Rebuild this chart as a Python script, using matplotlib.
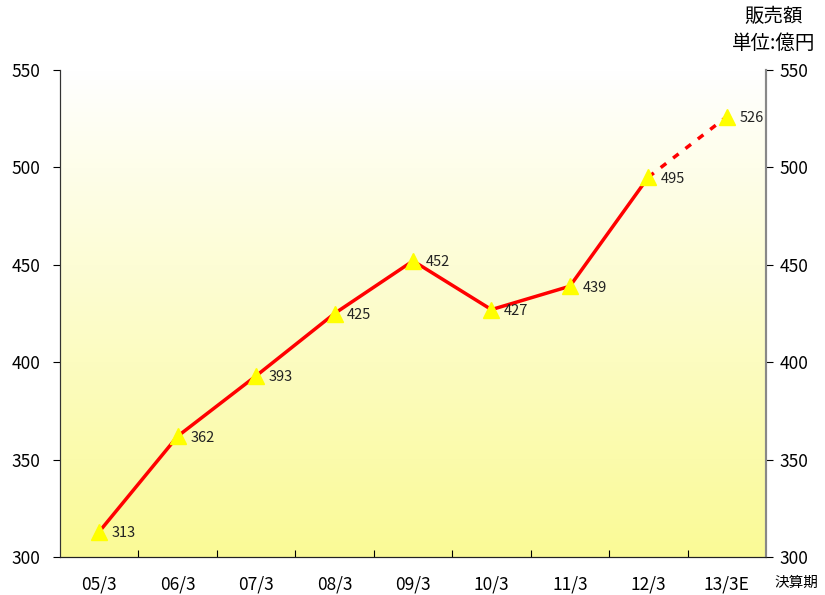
import numpy as np
import matplotlib
matplotlib.use("Agg")
import matplotlib.pyplot as plt

plt.rcParams['font.family'] = ['Noto Sans CJK JP', 'DejaVu Sans']

periods = ["05/3", "06/3", "07/3", "08/3", "09/3", "10/3", "11/3", "12/3", "13/3E"]
sales = [313, 362, 393, 425, 452, 427, 439, 495, 526]
n_actual = 8          # last point is the forecast (dashed)

fig = plt.figure(figsize=(8.25, 5.95), dpi=100)
ax = fig.add_axes([60 / 825, 38 / 595, 706 / 825, 487 / 595])

x = np.arange(len(periods))
ax.set_xlim(-0.5, len(periods) - 0.5)
ax.set_ylim(300, 550)

# background gradient: white at top -> light yellow at bottom
grad = np.linspace(0, 1, 256)[:, None]
top = np.array([1.0, 1.0, 1.0])
bot = np.array([250, 250, 150]) / 255
img = top + (bot - top) * grad[:, :, None]
ax.imshow(np.repeat(img, 2, axis=1), extent=[-0.5, len(periods) - 0.5, 300, 550],
          aspect="auto", zorder=0)

ax.plot(x[:n_actual], sales[:n_actual], color="red", lw=2.5, zorder=2)
ax.plot(x[n_actual - 1:], sales[n_actual - 1:], color="red", lw=2.5,
        ls=(0, (2, 2.5)), zorder=2)
ax.plot(x, sales, ls="none", marker="^", ms=11, color="#FFFF00", mec="#FFFF00", zorder=3)

for xi, v in zip(x, sales):
    ax.annotate(str(v), (xi, v), xytext=(9, -1), textcoords="offset points",
                fontsize=10.5, va="center", ha="left", color="#222222")

# y ticks on both sides
yt = [300, 350, 400, 450, 500, 550]
ax.set_yticks(yt)
ax.tick_params(axis="y", labelsize=12.5, length=5, direction="out", pad=9)
ax2 = ax.twinx()
ax2.set_ylim(300, 550)
ax2.set_yticks(yt)
ax2.tick_params(axis="y", labelsize=12.5, length=5, direction="out", pad=5)

# category boundaries as x ticks, labels at centres
ax.set_xticks(np.arange(len(periods) - 1) + 0.5)
ax.set_xticklabels([])
ax.tick_params(axis="x", direction="in", length=5)
ax.set_xticks(x, minor=True)
ax.set_xticklabels(periods, minor=True, fontsize=12.5)
ax.tick_params(axis="x", which="minor", length=0, pad=13)

for a in (ax, ax2):
    a.spines["top"].set_visible(False)
    a.spines["left"].set_color("#333333")
    a.spines["bottom"].set_color("#222222")
    a.spines["right"].set_color("#888888")
    a.spines["right"].set_linewidth(1.5)

fig.text(774 / 825, 1 - 17 / 595, "販売額", ha="center", va="center", fontsize=14)
fig.text(774 / 825, 1 - 43 / 595, "単位:億円", ha="center", va="center", fontsize=14)
fig.text(818 / 825, 1 - 583 / 595, "決算期", ha="right", va="center", fontsize=10.5)

fig.savefig("out.png", dpi=100)
